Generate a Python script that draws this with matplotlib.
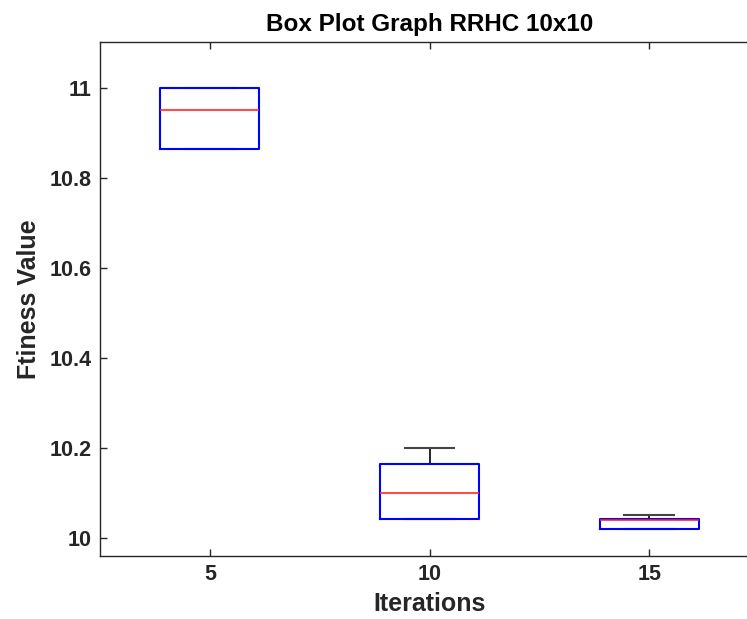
import matplotlib
matplotlib.use("Agg")
import matplotlib.pyplot as plt

# Box statistics ------------------------------------------------------------------------------------------------------
iterations = ["5", "10", "15"]
q1 = [10.863, 10.041, 10.019]
median = [10.951, 10.100, 10.040]
q3 = [11.000, 10.163, 10.041]
whisker_low = [10.863, 10.041, 10.019]
whisker_high = [11.000, 10.200, 10.051]

plt.rcParams['font.family'] = ['Liberation Sans', 'DejaVu Sans']

stats = []
for i in range(len(iterations)):
    stats.append(dict(label=iterations[i], q1=q1[i], med=median[i], q3=q3[i],
                      whislo=whisker_low[i], whishi=whisker_high[i], fliers=[]))

fig = plt.figure(figsize=(7.47, 6.19), dpi=100)
ax = fig.add_axes([100/747, 1 - 556/619, 659/747, 514/619])

ax.bxp(stats, widths=0.45, showfliers=False,
       boxprops=dict(color="#0000ff", linewidth=1.5, zorder=3),
       medianprops=dict(color="#ff2020", linewidth=1.5, alpha=0.8, zorder=4),
       whiskerprops=dict(color="black", linewidth=1.2, zorder=2),
       capprops=dict(color="#444444", linewidth=1.5, zorder=2))

ax.set_xlim(0.5, 3.5)
ax.set_ylim(9.959, 11.102)
ax.set_yticks([10, 10.2, 10.4, 10.6, 10.8, 11])
ax.set_yticklabels(["10", "10.2", "10.4", "10.6", "10.8", "11"])

for side in ["left", "bottom", "top", "right"]:
    ax.spines[side].set_color("#262626")
    ax.spines[side].set_linewidth(1.0)
ax.tick_params(direction="in", length=5, width=1.0, color="#262626", labelsize=15.5,
               top=True, right=False, pad=6)
for lbl in ax.get_xticklabels() + ax.get_yticklabels():
    lbl.set_fontweight("bold")
    lbl.set_color("#262626")

ax.set_title("Box Plot Graph RRHC 10x10", fontsize=17.5, fontweight="bold", pad=8)
ax.set_xlabel("Iterations", fontsize=18, fontweight="bold", color="#262626", labelpad=5)
ax.set_ylabel("Ftiness Value", fontsize=18, fontweight="bold", color="#262626", labelpad=6)

fig.savefig("out.png", dpi=100)
